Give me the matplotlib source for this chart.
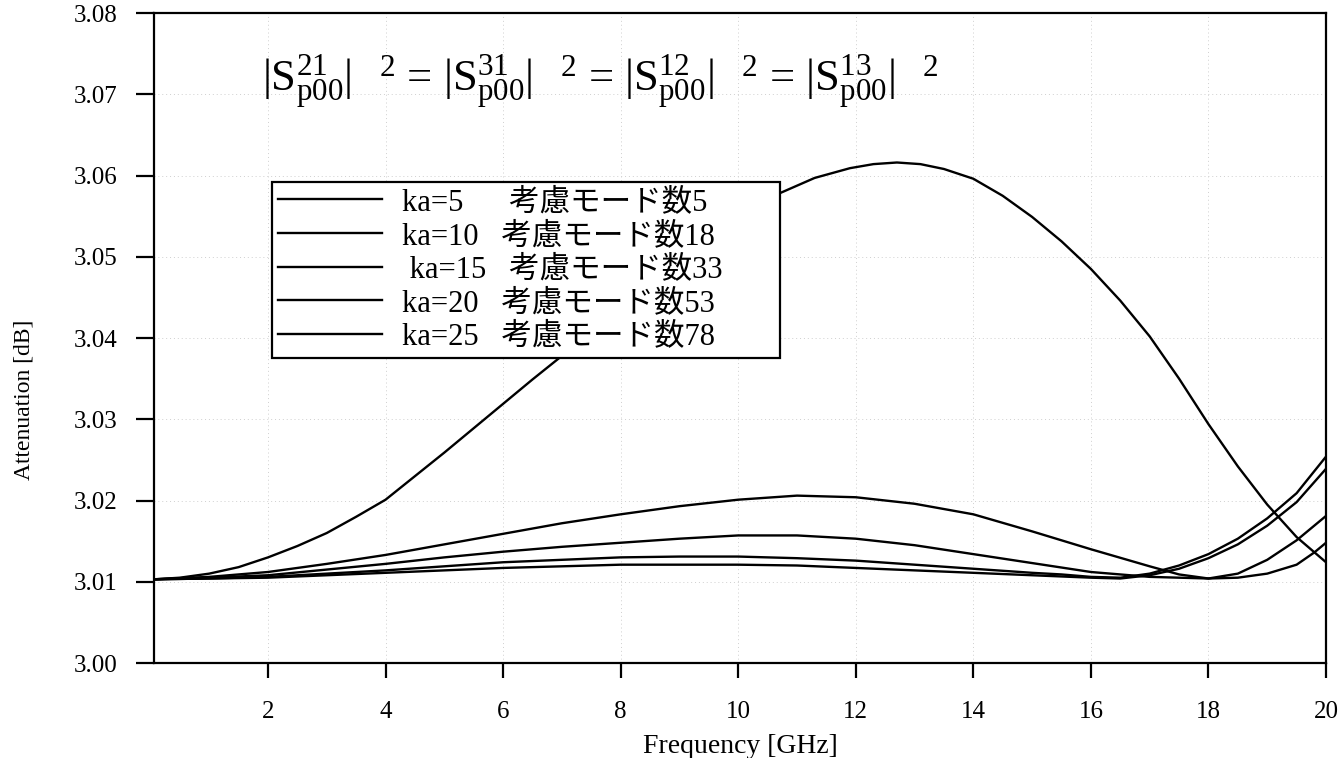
import matplotlib

matplotlib.use("Agg")
import matplotlib.pyplot as plt
from matplotlib.font_manager import FontProperties

plt.rcParams["font.family"] = ["Liberation Serif", "Noto Sans CJK JP"]
plt.rcParams["mathtext.fontset"] = "custom"
plt.rcParams["mathtext.rm"] = "Liberation Serif"
plt.rcParams["mathtext.it"] = "Liberation Serif:italic"

# values
freq_ka5 = [0.06, 0.5, 1, 1.5, 2, 2.5, 3, 3.5, 4, 4.5, 5, 5.5, 6, 6.5, 7, 8, 9, 10, 10.7,
            11.3, 11.9, 12.3, 12.7, 13.1, 13.5, 14, 14.5, 15, 15.5, 16, 16.5, 17, 17.5,
            18, 18.5, 19, 19.5, 20]
att_ka5 = [3.0103, 3.0105, 3.0110, 3.0118, 3.0130, 3.0144, 3.0160, 3.0180, 3.0201, 3.0230,
           3.0259, 3.0289, 3.0319, 3.0349, 3.0378, 3.0437, 3.0493, 3.0547, 3.0578, 3.0597,
           3.0609, 3.0614, 3.0616, 3.0614, 3.0608, 3.0596, 3.0575, 3.0549, 3.0519, 3.0485,
           3.0446, 3.0402, 3.0350, 3.0294, 3.0242, 3.0195, 3.0155, 3.0124]

freq_ka10 = [0.06, 1, 2, 3, 4, 5, 6, 7, 8, 9, 10, 11, 12, 13, 14, 15, 16, 17, 17.5, 18,
             18.5, 19, 19.5, 20]
att_ka10 = [3.0103, 3.0106, 3.0112, 3.0122, 3.0133, 3.0146, 3.0159, 3.0172, 3.0183, 3.0193,
            3.0201, 3.0206, 3.0204, 3.0196, 3.0183, 3.0162, 3.0140, 3.0119, 3.0109, 3.0104,
            3.0110, 3.0127, 3.0151, 3.0181]

freq_ka15 = [0.06, 1, 2, 3, 4, 5, 6, 7, 8, 9, 10, 11, 12, 13, 14, 15, 16, 17, 18, 18.5,
             19, 19.5, 19.8, 20]
att_ka15 = [3.0103, 3.0105, 3.0108, 3.0115, 3.0122, 3.0130, 3.0137, 3.0143, 3.0148, 3.0153,
            3.0157, 3.0157, 3.0153, 3.0145, 3.0134, 3.0123, 3.0112, 3.0106, 3.0104, 3.0105,
            3.0110, 3.0121, 3.0136, 3.0148]

freq_ka20 = [0.06, 1, 2, 3, 4, 5, 6, 7, 8, 9, 10, 11, 12, 13, 14, 15, 15.5, 16, 16.5, 17,
             17.5, 18, 18.5, 19, 19.5, 20]
att_ka20 = [3.0103, 3.0104, 3.0106, 3.0110, 3.0114, 3.0119, 3.0124, 3.0127, 3.0130, 3.0131,
            3.0131, 3.0129, 3.0126, 3.0121, 3.0116, 3.0111, 3.0109, 3.0106, 3.0105, 3.0110,
            3.0120, 3.0134, 3.0153, 3.0178, 3.0209, 3.0254]

freq_ka25 = [0.06, 1, 2, 3, 4, 5, 6, 7, 8, 9, 10, 11, 12, 13, 14, 15, 16, 16.5, 17, 17.5,
             18, 18.5, 19, 19.5, 20]
att_ka25 = [3.0103, 3.0104, 3.0105, 3.0108, 3.0111, 3.0114, 3.0117, 3.0119, 3.0121, 3.0121,
            3.0121, 3.0120, 3.0117, 3.0114, 3.0111, 3.0108, 3.0105, 3.0104, 3.0108, 3.0116,
            3.0129, 3.0146, 3.0169, 3.0198, 3.0239]

labels = [
    "ka=5      考慮モード数5",
    "ka=10   考慮モード数18",
    " ka=15   考慮モード数33",
    "ka=20   考慮モード数53",
    "ka=25   考慮モード数78",
]
x_ticks = [2, 4, 6, 8, 10, 12, 14, 16, 18, 20]
y_ticks = [3.00, 3.01, 3.02, 3.03, 3.04, 3.05, 3.06, 3.07, 3.08]

formula = (r"$|\mathrm{S}^{21}_{\mathrm{p00}}|^{\quad\,2}$ = "
           r"$|\mathrm{S}^{31}_{\mathrm{p00}}|^{\quad\,2}$ = "
           r"$|\mathrm{S}^{12}_{\mathrm{p00}}|^{\quad\,2}$ = "
           r"$|\mathrm{S}^{13}_{\mathrm{p00}}|^{\quad\,2}$")


def main():
    fig = plt.figure(figsize=(13.42, 7.58), dpi=100)
    ax = fig.add_axes([154 / 1342, 95 / 758, 1172 / 1342, 650 / 758])

    series = [
        (freq_ka5, att_ka5),
        (freq_ka10, att_ka10),
        (freq_ka15, att_ka15),
        (freq_ka20, att_ka20),
        (freq_ka25, att_ka25),
    ]
    for (x, y), label in zip(series, labels):
        ax.plot(x, y, color="black", linewidth=1.7, label=label, zorder=3)

    ax.set_xlim(0.06, 20)
    ax.set_ylim(3.00, 3.08)
    ax.set_xticks(x_ticks)
    ax.set_xticklabels([str(t) for t in x_ticks])
    ax.set_yticks(y_ticks)
    ax.set_yticklabels([f"{t:.2f}" for t in y_ticks])
    ax.tick_params(direction="out", width=1.6, labelsize=18)
    ax.tick_params(axis="y", length=13, pad=13)
    ax.tick_params(axis="x", length=11, pad=16)
    for spine in ax.spines.values():
        spine.set_linewidth(1.6)
    ax.grid(True, color="#cfcfcf", linestyle=(0, (1, 3)), linewidth=0.7)

    ax.set_xlabel("Frequency [GHz]", fontsize=20, labelpad=8)
    ax.set_ylabel("Attenuation [dB]", fontsize=17)
    ax.yaxis.set_label_coords(-0.102, 0.405)

    ax.text(0.092, 0.894, formula, transform=ax.transAxes, fontsize=32,
            ha="left", va="center")

    leg_font = FontProperties(family=["Liberation Serif", "Noto Sans CJK JP"], size=22)
    leg = ax.legend(loc="upper left", bbox_to_anchor=(0.1007, 0.740, 0.4334, 0.0),
                    mode="expand", borderaxespad=0,
                    prop=leg_font, frameon=True, fancybox=False, framealpha=1,
                    edgecolor="black", handlelength=3.4, handletextpad=0.65,
                    labelspacing=0.15, borderpad=0.2)
    leg.get_frame().set_linewidth(1.6)
    leg.set_zorder(5)

    fig.savefig("out.png", dpi=100)
    plt.close(fig)


if __name__ == "__main__":
    main()
